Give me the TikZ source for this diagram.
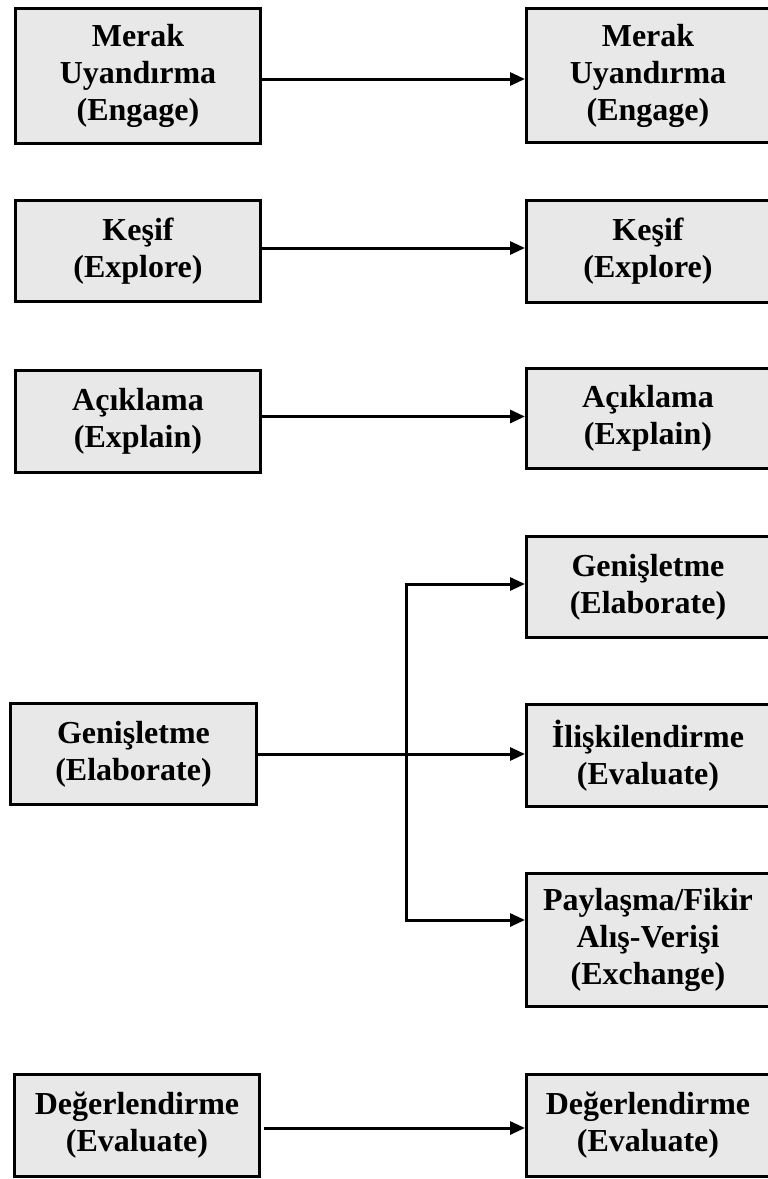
\documentclass[tikz,border=0pt]{standalone}
\usepackage{fontspec}
\setmainfont{Liberation Serif}
\usetikzlibrary{arrows.meta,calc}
\definecolor{boxgray}{RGB}{232,232,232}
\tikzset{
  stagebox/.style={draw=black, fill=boxgray, line width=3pt, rectangle,
    align=center, inner sep=0pt, text=black,
    font=\bfseries\fontsize{32}{37}\selectfont},
  flow/.style={line width=3pt, -{Triangle[length=15pt,width=13pt]}},
  trunk/.style={line width=3pt}
}
\begin{document}
\begin{tikzpicture}[x=1pt,y=-1pt]
\useasboundingbox (0,0) rectangle (768,1179);
\clip (0,0) rectangle (768,1179);

% left column
\node[stagebox, minimum width=245pt, minimum height=135pt] (l1) at (138,76) {Merak\\Uyandırma\\(Engage)};
\node[stagebox, minimum width=245pt, minimum height=101pt] (l2) at (138,251) {Keşif\\(Explore)};
\node[stagebox, minimum width=245pt, minimum height=102pt] (l3) at (138,421.5) {Açıklama\\(Explain)};
\node[stagebox, minimum width=246pt, minimum height=101pt] (l4) at (133.5,754) {Genişletme\\(Elaborate)};
\node[stagebox, minimum width=245pt, minimum height=102pt] (l5) at (137,1125.5) {Değerlendirme\\(Evaluate)};

% right column (right edge runs off the page)
\node[stagebox, minimum width=243pt, minimum height=134pt] (r1) at (648,75.5) {Merak\\Uyandırma\\(Engage)};
\node[stagebox, minimum width=243pt, minimum height=102pt] (r2) at (648,251.5) {Keşif\\(Explore)};
\node[stagebox, minimum width=243pt, minimum height=100pt] (r3) at (648,418.5) {Açıklama\\(Explain)};
\node[stagebox, minimum width=243pt, minimum height=101pt] (r4) at (648,587) {Genişletme\\(Elaborate)};
\node[stagebox, minimum width=243pt, minimum height=102pt] (r5) at (648,755.5) {İlişkilendirme\\(Evaluate)};
\node[stagebox, minimum width=243pt, minimum height=133pt] (r6) at (648,940) {Paylaşma/Fikir\\Alış-Verişi\\(Exchange)};
\node[stagebox, minimum width=243pt, minimum height=102pt] (r7) at (648,1125.5) {Değerlendirme\\(Evaluate)};

% one-to-one stage arrows
\coordinate (s1) at ($(l1.east)+(0,3)$);
\draw[flow] (s1) -- (s1 -| r1.west);
\coordinate (s2) at ($(l2.east)+(0,-3)$);
\draw[flow] (s2) -- (s2 -| r2.west);
\coordinate (s3) at ($(l3.east)+(0,-5)$);
\draw[flow] (s3) -- (s3 -| r3.west);
\coordinate (s5) at ($(l5.east)+(3,2.5)$);
\draw[flow] (s5) -- (s5 -| r7.west);

% elaborate stage branches into three
\coordinate (jt) at (406,584);
\coordinate (jb) at (406,920);
\draw[flow] (l4.east) -- (l4.east -| r5.west);
\draw[trunk] (jt) -- (jb);
\draw[flow] ([xshift=-1.5pt]jt) -- (jt -| r4.west);
\draw[flow] ([xshift=-1.5pt]jb) -- (jb -| r6.west);
\end{tikzpicture}
\end{document}
